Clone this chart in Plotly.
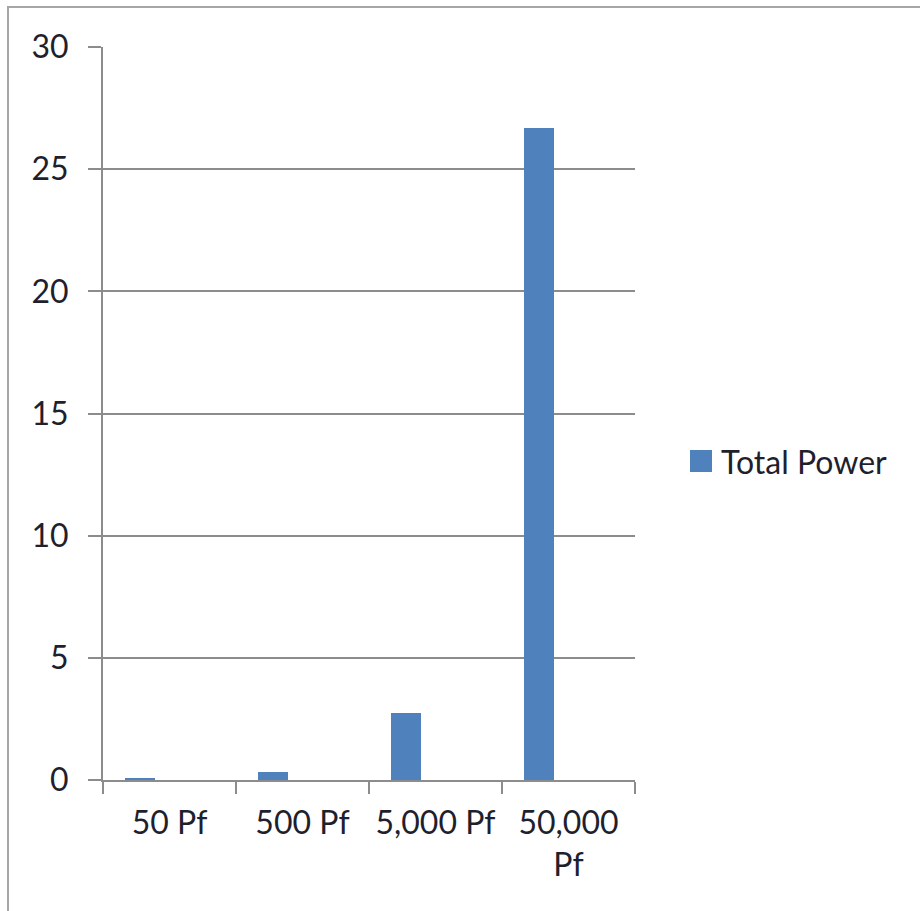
import plotly.graph_objects as go

# Capacitance settings and the measured total power for each
categories = ["50 Pf", "500 Pf", "5,000 Pf", "50,000 Pf"]
tick_labels = ["50 Pf", "500 Pf", "5,000 Pf", "50,000<br>Pf"]
total_power = [0.08, 0.33, 2.73, 26.67]
series_name = "Total Power"
y_ticks = [0, 5, 10, 15, 20, 25, 30]

BAR_COLOR = "#4f81bd"
GRID = "#8c8c8c"
TEXT = "#1f1f2e"
FONT = "Lato"
FSIZE = 32
W, H = 920, 911

# plot-area geometry in pixels
L, R, T, B = 103, 635, 47, 780
pw, ph = R - L, B - T


def px_x(x):
    return (x - L) / pw


def px_y(y):
    return (B - y) / ph


fig = go.Figure()
fig.add_trace(go.Bar(
    x=categories,
    y=total_power,
    name=series_name,
    marker=dict(color=BAR_COLOR, line=dict(width=0)),
    width=0.222,
    offset=-0.333,
    showlegend=False,
))

fig.update_layout(
    width=W,
    height=H,
    margin=dict(l=L, r=W - R, t=T, b=H - B, pad=0),
    paper_bgcolor="white",
    plot_bgcolor="white",
    font=dict(family=FONT, size=FSIZE, color=TEXT),
    bargap=0,
    xaxis=dict(
        type="category",
        range=[-0.5, 3.5],
        tickmode="array",
        tickvals=categories,
        ticktext=tick_labels,
        tickson="boundaries",
        ticks="outside",
        ticklen=12,
        tickwidth=2,
        tickcolor=GRID,
        showline=True,
        linecolor=GRID,
        linewidth=2,
        showgrid=False,
        zeroline=False,
        ticklabelstandoff=14,
    ),
    yaxis=dict(
        range=[0, 30],
        tickmode="array",
        tickvals=y_ticks,
        ticks="outside",
        ticklen=13,
        tickwidth=1.5,
        tickcolor=GRID,
        showline=True,
        linecolor=GRID,
        linewidth=2,
        showgrid=True,
        gridcolor=GRID,
        gridwidth=1.5,
        zeroline=False,
        ticklabelstandoff=13,
    ),
)

# legend entry: square swatch and series name
fig.add_shape(
    type="rect", xref="paper", yref="paper",
    x0=px_x(690), x1=px_x(712), y0=px_y(472), y1=px_y(450),
    fillcolor=BAR_COLOR, line=dict(width=0),
)
fig.add_annotation(
    xref="paper", yref="paper", x=px_x(719), y=px_y(461),
    text=series_name, showarrow=False, xanchor="left", yanchor="middle",
    font=dict(family=FONT, size=FSIZE, color=TEXT),
)

# chart frame
fig.add_shape(
    type="rect", xref="paper", yref="paper",
    x0=px_x(8), x1=px_x(940), y0=px_y(930), y1=px_y(7),
    line=dict(color="#a6a6a6", width=2), fillcolor="rgba(0,0,0,0)",
    layer="below",
)

fig.write_html("out.html")
